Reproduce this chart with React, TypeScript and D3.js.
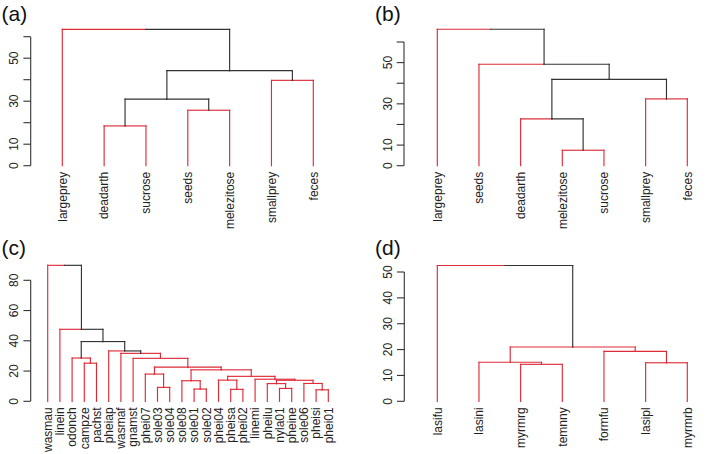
import React from "react";
import * as d3 from "d3";

// ---------- data ----------
// Panel (a)
const aLeaves = ["largeprey", "deadarth", "sucrose", "seeds", "melezitose", "smallprey", "feces"];
const aMerges: [number, number][] = [[-2, -3], [-4, -5], [1, 2], [-6, -7], [3, 4], [-1, 5]];
const aHeights = [18.5, 25.8, 31.0, 39.7, 44.2, 63.4];
const aRedNodes = [false, false, false, false, false, false];
const aTicks = [0, 10, 20, 30, 40, 50, 60];
const aTickLabels = [0, 10, 30, 50];

// Panel (b)
const bLeaves = ["largeprey", "seeds", "deadarth", "melezitose", "sucrose", "smallprey", "feces"];
const bMerges: [number, number][] = [[-4, -5], [-3, 1], [-6, -7], [2, 3], [-2, 4], [-1, 5]];
const bHeights = [7.5, 22.7, 32.4, 41.9, 49.2, 66.2];
const bRedNodes = [false, false, false, false, false, false];
const bTicks = [0, 10, 20, 30, 40, 50, 60];
const bTickLabels = [0, 10, 30, 50];

// Panel (c)
const cLeaves = [
  "wasmau", "linein", "odonch", "campze", "pachst", "pheiap", "wasmaf", "gnamst",
  "phei07", "sole03", "sole04", "sole08", "sole01", "sole02", "phei04", "pheisa",
  "phei02", "linemi", "pheilu", "nyla01", "pheine", "sole06", "pheisi", "phei01",
];
const cMerges: [number, number][] = [
  [-23, -24], [-16, -17], [-13, -14], [-20, -21], [-10, -11], [-19, 4], [-22, 1], [-12, 3],
  [6, 7], [-15, 2], [-18, 9], [10, 11], [-9, 5], [8, 12], [13, 14], [-4, -5],
  [-8, 15], [-3, 16], [-7, 17], [-6, 19], [18, 20], [-2, 21], [-1, 22],
];
const cHeights = [
  7.6, 7.9, 8.1, 8.5, 9.2, 11.7, 11.8, 13.6,
  13.9, 14.0, 14.6, 16.5, 18.0, 20.8, 22.6, 25.2,
  28.4, 28.6, 31.7, 33.3, 39.5, 47.6, 89.9,
];
const cRedNodes = [
  true, true, true, true, true, true, true, true,
  true, true, true, true, true, true, true, true,
  true, false, false, false, false, false, false,
];
const cTicks = [0, 20, 40, 60, 80];
const cTickLabels = [0, 20, 40, 60, 80];

// Panel (d)
const dLeaves = ["lasifu", "lasini", "myrmrg", "temnny", "formfu", "lasipl", "myrmrb"];
const dMerges: [number, number][] = [[-3, -4], [-6, -7], [-2, 1], [-5, 2], [3, 4], [-1, 5]];
const dHeights = [14.3, 14.9, 15.1, 19.3, 21.0, 52.5];
const dRedNodes = [true, true, true, true, false, false];
const dTicks = [0, 10, 20, 30, 40, 50];
const dTickLabels = [0, 10, 20, 30, 40, 50];

// ---------- styling / layout ----------
const RED = "#dd2c38";
const BLACK = "#333333";
const FONT = "'Liberation Sans', Arial, Helvetica, sans-serif";

type PanelSpec = {
  tag: string;
  leaves: string[];
  merges: [number, number][];
  heights: number[];
  red: boolean[];
  ticks: number[];
  tickLabels: number[];
  axisX: number;
  x0: number;
  x1: number;
  y0: number;
  yTop: number;
  yMax: number;
  tagX: number;
  tagY: number;
};

const panels: PanelSpec[] = [
  { tag: "(a)", leaves: aLeaves, merges: aMerges, heights: aHeights, red: aRedNodes, ticks: aTicks, tickLabels: aTickLabels,
    axisX: 30.7, x0: 62.3, x1: 313.3, y0: 165.7, yTop: 36.7, yMax: 60, tagX: 1.5, tagY: 20.8 },
  { tag: "(b)", leaves: bLeaves, merges: bMerges, heights: bHeights, red: bRedNodes, ticks: bTicks, tickLabels: bTickLabels,
    axisX: 404, x0: 437.3, x1: 687.3, y0: 165.7, yTop: 42, yMax: 60, tagX: 375, tagY: 20.8 },
  { tag: "(c)", leaves: cLeaves, merges: cMerges, heights: cHeights, red: cRedNodes, ticks: cTicks, tickLabels: cTickLabels,
    axisX: 30.7, x0: 47.7, x1: 328.3, y0: 401.3, yTop: 280.3, yMax: 80, tagX: 1.5, tagY: 254.5 },
  { tag: "(d)", leaves: dLeaves, merges: dMerges, heights: dHeights, red: dRedNodes, ticks: dTicks, tickLabels: dTickLabels,
    axisX: 404.3, x0: 437.3, x1: 687.3, y0: 401.3, yTop: 272, yMax: 50, tagX: 375, tagY: 254.5 },
];

type Seg = { x1: number; y1: number; x2: number; y2: number; color: string };

function Dendro({ p }: { p: PanelSpec }) {
  const n = p.leaves.length;
  const xs = d3.scaleLinear().domain([1, n]).range([p.x0, p.x1]);
  const ys = d3.scaleLinear().domain([0, p.yMax]).range([p.y0, p.yTop]);

  const nodeX: number[] = [];
  const getX = (c: number) => (c < 0 ? -c : nodeX[c - 1]);
  const getH = (c: number) => (c < 0 ? 0 : p.heights[c - 1]);
  const getColor = (c: number) => (c < 0 ? RED : p.red[c - 1] ? RED : BLACK);

  const segs: Seg[] = [];
  p.merges.forEach(([l, r], i) => {
    const mx = (getX(l) + getX(r)) / 2;
    nodeX[i] = mx;
    const h = p.heights[i];
    [l, r].forEach((c) => {
      const cx = getX(c);
      const col = getColor(c);
      segs.push({ x1: xs(mx), y1: ys(h), x2: xs(cx), y2: ys(h), color: col });
      segs.push({ x1: xs(cx), y1: ys(h), x2: xs(cx), y2: ys(getH(c)), color: col });
    });
  });

  const tMin = d3.min(p.ticks) as number;
  const tMax = d3.max(p.ticks) as number;

  return (
    <g>
      <text x={p.tagX} y={p.tagY} fontFamily={FONT} fontSize={21} fill="#111">{p.tag}</text>
      {/* axis */}
      <line x1={p.axisX} x2={p.axisX} y1={ys(tMin)} y2={ys(tMax)} stroke={BLACK} strokeWidth={1.1} />
      {p.ticks.map((t) => (
        <line key={"t" + t} x1={p.axisX - 7.3} x2={p.axisX} y1={ys(t)} y2={ys(t)} stroke={BLACK} strokeWidth={1.1} />
      ))}
      {p.tickLabels.map((t) => (
        <text key={"l" + t} transform={`translate(${p.axisX - 16.5},${ys(t)}) rotate(-90)`} textAnchor="middle"
          dy="0.35em" fontFamily={FONT} fontSize={12} fill="#222">{t}</text>
      ))}
      {/* edges */}
      {segs.map((s, i) => (
        <line key={"s" + i} x1={s.x1} y1={s.y1} x2={s.x2} y2={s.y2} stroke={s.color} strokeWidth={1.15} strokeLinecap="square" />
      ))}
      {/* leaf labels */}
      {p.leaves.map((name, i) => (
        <text key={"n" + i} transform={`translate(${xs(i + 1)},${p.y0 + 6}) rotate(-90)`} textAnchor="end"
          dy="0.35em" fontFamily={FONT} fontSize={12} fill="#222">{name}</text>
      ))}
    </g>
  );
}

export default function App() {
  return (
    <svg width={720} height={454} viewBox="0 0 720 454"
      style={{ position: "absolute", left: 0, top: 0, background: "#fff", display: "block" }}>
      <rect x={0} y={0} width={720} height={454} fill="#fff" />
      {panels.map((p) => (
        <Dendro key={p.tag} p={p} />
      ))}
    </svg>
  );
}
